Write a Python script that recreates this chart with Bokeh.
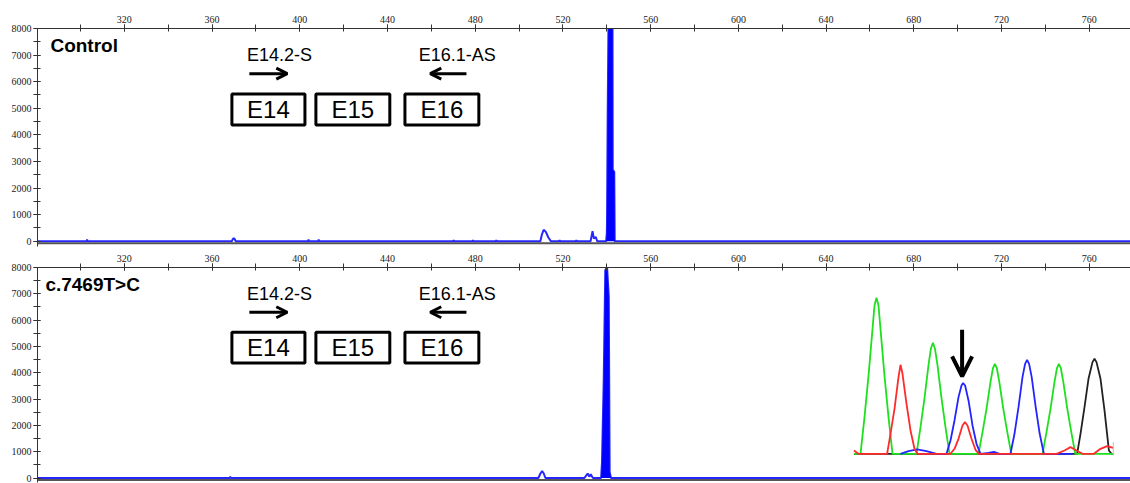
from bokeh.plotting import figure
from bokeh.layouts import column
from bokeh.models import Range1d, SingleIntervalTicker, Span, Label, Arrow, OpenHead
from bokeh.embed import file_html
from bokeh.resources import INLINE

# ---------------- fragment analysis: size (bp) vs. signal (RFU) ----------------
control_size = [280.4, 302.8, 303.0, 303.2, 369.0, 369.5, 369.9, 370.3, 370.8,
                403.8, 404.0, 404.2, 408.4, 408.6, 408.8, 470.0, 470.2, 470.4,
                478.8, 479.0, 479.2, 489.4, 489.6, 489.8, 509.7, 510.4, 511.2,
                512.2, 513.3, 514.5, 518.3, 518.5, 518.7, 525.9, 526.1, 526.3,
                532.6, 533.5, 534.1, 535.0, 535.6, 539.7, 540.0, 540.1, 540.4,
                540.8, 542.6, 542.7, 543.4, 543.6, 778.8]
control_rfu = [0, 0, 60, 0, 0, 80, 110, 80, 0,
               0, 60, 0, 0, 60, 0, 0, 40, 0,
               0, 40, 0, 0, 40, 0, 0, 250, 430,
               350, 150, 0, 0, 40, 0, 0, 40, 0,
               0, 380, 100, 160, 0, 0, 300, 780, 4800,
               8600, 8600, 2700, 2600, 0, 0]

mutant_size = [280.4, 368.1, 368.3, 368.5, 508.8, 509.8, 510.5, 511.2, 512.0,
               529.8, 530.5, 531.3, 532.0, 532.7, 533.2, 533.7, 537.4, 537.8,
               538.6, 539.3, 540.1, 540.9, 541.3, 541.9, 778.8]
mutant_rfu = [0, 0, 50, 0, 0, 180, 260, 180, 0,
              0, 80, 170, 50, 140, 60, 0, 0, 590,
              3740, 7890, 8050, 6880, 230, 0, 0]

# main amplicon peak window (drawn filled)
amplicon_window = (537.0, 544.0)

panel_titles = ["Control", "c.7469T>C"]
primer_names = ["E14.2-S", "E16.1-AS"]
exon_names = ["E14", "E15", "E16"]

# ---------------- Sanger trace around c.7469 (scan vs. signal) ----------------
trace_a_scan = [6.7, 10, 12, 14, 16, 17, 18, 19, 20, 22, 24, 26,
                38, 40, 42, 44, 45.2, 46.2, 47.2, 48.5, 50.5, 52.5, 54.5,
                69, 71, 73, 75, 76.2, 77.2, 78.2, 79.4, 81.4, 83.4, 85.4,
                101, 103, 105, 107, 108.2, 109.2, 110.2, 111.4, 113.4, 115.4, 117.4, 136.3]
trace_a_signal = [0, 0, 110, 234, 374, 445, 468, 445, 374, 234, 110, 0,
                  0, 80, 167, 266, 316, 333, 316, 266, 167, 80, 0,
                  0, 65, 135, 216, 256, 270, 256, 216, 135, 65, 0,
                  0, 65, 135, 216, 256, 270, 256, 216, 135, 65, 0, 0]

trace_t_scan = [6.7, 9, 23.3, 25, 27, 29, 30, 31, 33, 35, 37, 38.5,
                55, 57, 59, 61, 62.2, 63.5, 65.5, 67.5, 69.2,
                108, 112, 115, 118, 121, 126.7, 130, 133.3, 136.3]
trace_t_signal = [10, 0, 0, 60, 135, 230, 267, 240, 150, 70, 15, 0,
                  0, 15, 45, 85, 95, 85, 45, 12, 0,
                  0, 10, 20, 10, 0, 0, 15, 23, 18]

trace_c_scan = [30, 34, 38.3, 43, 48, 53, 55, 57, 59, 60.5, 61.3, 62.3, 64, 66, 68, 70,
                74, 76.7, 79.5, 85, 87, 89, 91, 92.3, 93.3, 94.3, 95.6, 97.6, 99.6, 101.7, 116]
trace_c_signal = [0, 8, 13, 8, 0, 0, 40, 100, 170, 205, 212, 205, 160, 85, 30, 0,
                  3, 6, 0, 0, 60, 140, 230, 270, 282, 270, 230, 140, 60, 0, 0]

trace_g_scan = [6.7, 33, 108, 118.3, 120, 122, 124, 126, 127, 128, 130, 132, 134.2, 135.5, 136.3]
trace_g_signal = [0, 0, 0, 0, 60, 140, 225, 275, 285, 275, 225, 130, 10, 0, 0]

for a, b in [(control_size, control_rfu), (mutant_size, mutant_rfu),
             (trace_a_scan, trace_a_signal), (trace_t_scan, trace_t_signal),
             (trace_c_scan, trace_c_signal), (trace_g_scan, trace_g_signal)]:
    assert len(a) == len(b)

# ---------------- layout ----------------
W = 1130
TOP_H, BOT_H = 247, 236
LEFT = 37
TOP_BORDER = (28, 20)
TICK_FONT = "Liberation Sans Narrow"
TEXT_FONT = "Liberation Sans"
AXIS_COLOR = "#333333"
TRACE_BLUE = "#0000ff"

x_range = Range1d(280.4, 778.8)


def make_panel(height, border_top, y_start, title, title_x, sizes, rfus):
    p = figure(width=W, height=height, x_range=x_range, y_range=Range1d(y_start, 8000),
               x_axis_location="above", output_backend="svg", toolbar_location=None,
               min_border_left=LEFT, min_border_right=0, min_border_top=border_top,
               min_border_bottom=1)
    p.outline_line_color = None
    p.xgrid.visible = False
    p.ygrid.visible = False
    p.background_fill_color = "white"
    p.border_fill_color = "white"

    p.xaxis.ticker = SingleIntervalTicker(interval=40, num_minor_ticks=2)
    p.yaxis.ticker = SingleIntervalTicker(interval=1000, num_minor_ticks=2)
    for ax in (p.xaxis[0], p.yaxis[0]):
        ax.axis_line_color = AXIS_COLOR
        ax.major_tick_line_color = AXIS_COLOR
        ax.minor_tick_line_color = AXIS_COLOR
        ax.major_tick_in = 3
        ax.major_tick_out = 4
        ax.minor_tick_in = 3
        ax.minor_tick_out = 4
        ax.major_label_text_font = TICK_FONT
        ax.major_label_text_font_size = "10px"
        ax.major_label_text_color = "#1a1a1a"
    p.xaxis.major_label_standoff = 2
    p.yaxis.major_label_standoff = 2

    # frame floor
    p.add_layout(Span(location=-75, dimension="width", line_color="#555555", line_width=2))

    # filled amplicon peak
    lo, hi = amplicon_window
    px = [s for s in sizes if lo <= s <= hi]
    py = [r for s, r in zip(sizes, rfus) if lo <= s <= hi]
    p.varea(x=px, y1=[0] * len(px), y2=py, fill_color=TRACE_BLUE)
    p.line(sizes, rfus, line_color=TRACE_BLUE, line_width=2, line_alpha=0.85)

    # panel title
    p.add_layout(Label(x=title_x, y=7350, text=title,
                       text_font=TEXT_FONT, text_font_style="bold", text_font_size="19px",
                       text_baseline="alphabetic", text_color="black"))

    # primers
    p.add_layout(Label(x=375.9, y=6990, text=primer_names[0], text_font=TEXT_FONT,
                       text_font_size="18px", text_baseline="alphabetic", text_color="black"))
    p.add_layout(Label(x=454.2, y=6990, text=primer_names[1], text_font=TEXT_FONT,
                       text_font_size="18px", text_baseline="alphabetic", text_color="black"))
    p.add_layout(Arrow(x_start=377.0, y_start=6300, x_end=394.3, y_end=6300, line_width=3,
                       line_color="black",
                       end=OpenHead(size=11, line_width=3, line_color="black")))
    p.add_layout(Arrow(x_start=476.0, y_start=6300, x_end=459.5, y_end=6300, line_width=3,
                       line_color="black",
                       end=OpenHead(size=11, line_width=3, line_color="black")))

    # exon boxes
    box_x = [385.7, 424.2, 464.8]
    box_w = [33.3, 33.7, 33.7]
    p.rect(x=box_x, y=[4953] * 3, width=box_w, height=[1166] * 3,
           fill_color="white", line_color="black", line_width=3)
    for bx, name in zip(box_x, exon_names):
        p.add_layout(Label(x=bx, y=4953, text=name, text_font=TEXT_FONT, text_font_size="24px",
                           text_align="center", text_baseline="middle", text_color="black"))
    return p


top = make_panel(TOP_H, TOP_BORDER[0], -199, panel_titles[0], 286.3, control_size, control_rfu)
bot = make_panel(BOT_H, TOP_BORDER[1], -171, panel_titles[1], 284.0, mutant_size, mutant_rfu)

# ---- Sanger trace inset, on its own scan/signal ranges inside the lower panel ----
frame_x0, frame_x1 = LEFT, W
frame_y0, frame_y1 = TOP_H + TOP_BORDER[1], TOP_H + BOT_H - 1
scan0_px, px_per_scan = 840.0, 2.0        # page x of scan 0
base_px, px_per_signal = 453.3, 1.0 / 3   # page y of zero signal
bot.extra_x_ranges = {"scan": Range1d((frame_x0 - scan0_px) / px_per_scan,
                                      (frame_x1 - scan0_px) / px_per_scan)}
bot.extra_y_ranges = {"signal": Range1d((base_px - frame_y1) / px_per_signal,
                                        (base_px - frame_y0) / px_per_signal)}

inset_kw = dict(x_range_name="scan", y_range_name="signal", line_width=1.8)
bot.line(trace_g_scan, trace_g_signal, line_color="#222222", **inset_kw)
bot.line(trace_a_scan, trace_a_signal, line_color="#1fe01f", **inset_kw)
bot.line(trace_c_scan, trace_c_signal, line_color="#2424ff", **inset_kw)
bot.line(trace_t_scan, trace_t_signal, line_color="#ff2a2a", **inset_kw)
bot.segment(x0=[136.4], y0=[-5], x1=[136.4], y1=[35], line_color="#bbbbbb", line_width=1,
            x_range_name="scan", y_range_name="signal")
bot.add_layout(Arrow(x_start=60.8, y_start=372, x_end=60.8, y_end=232, line_width=4,
                     line_color="black", x_range_name="scan", y_range_name="signal",
                     end=OpenHead(size=20, line_width=4, line_color="black")))

layout = column(top, bot, spacing=0)
open("out.html", "w").write(file_html(layout, INLINE))
